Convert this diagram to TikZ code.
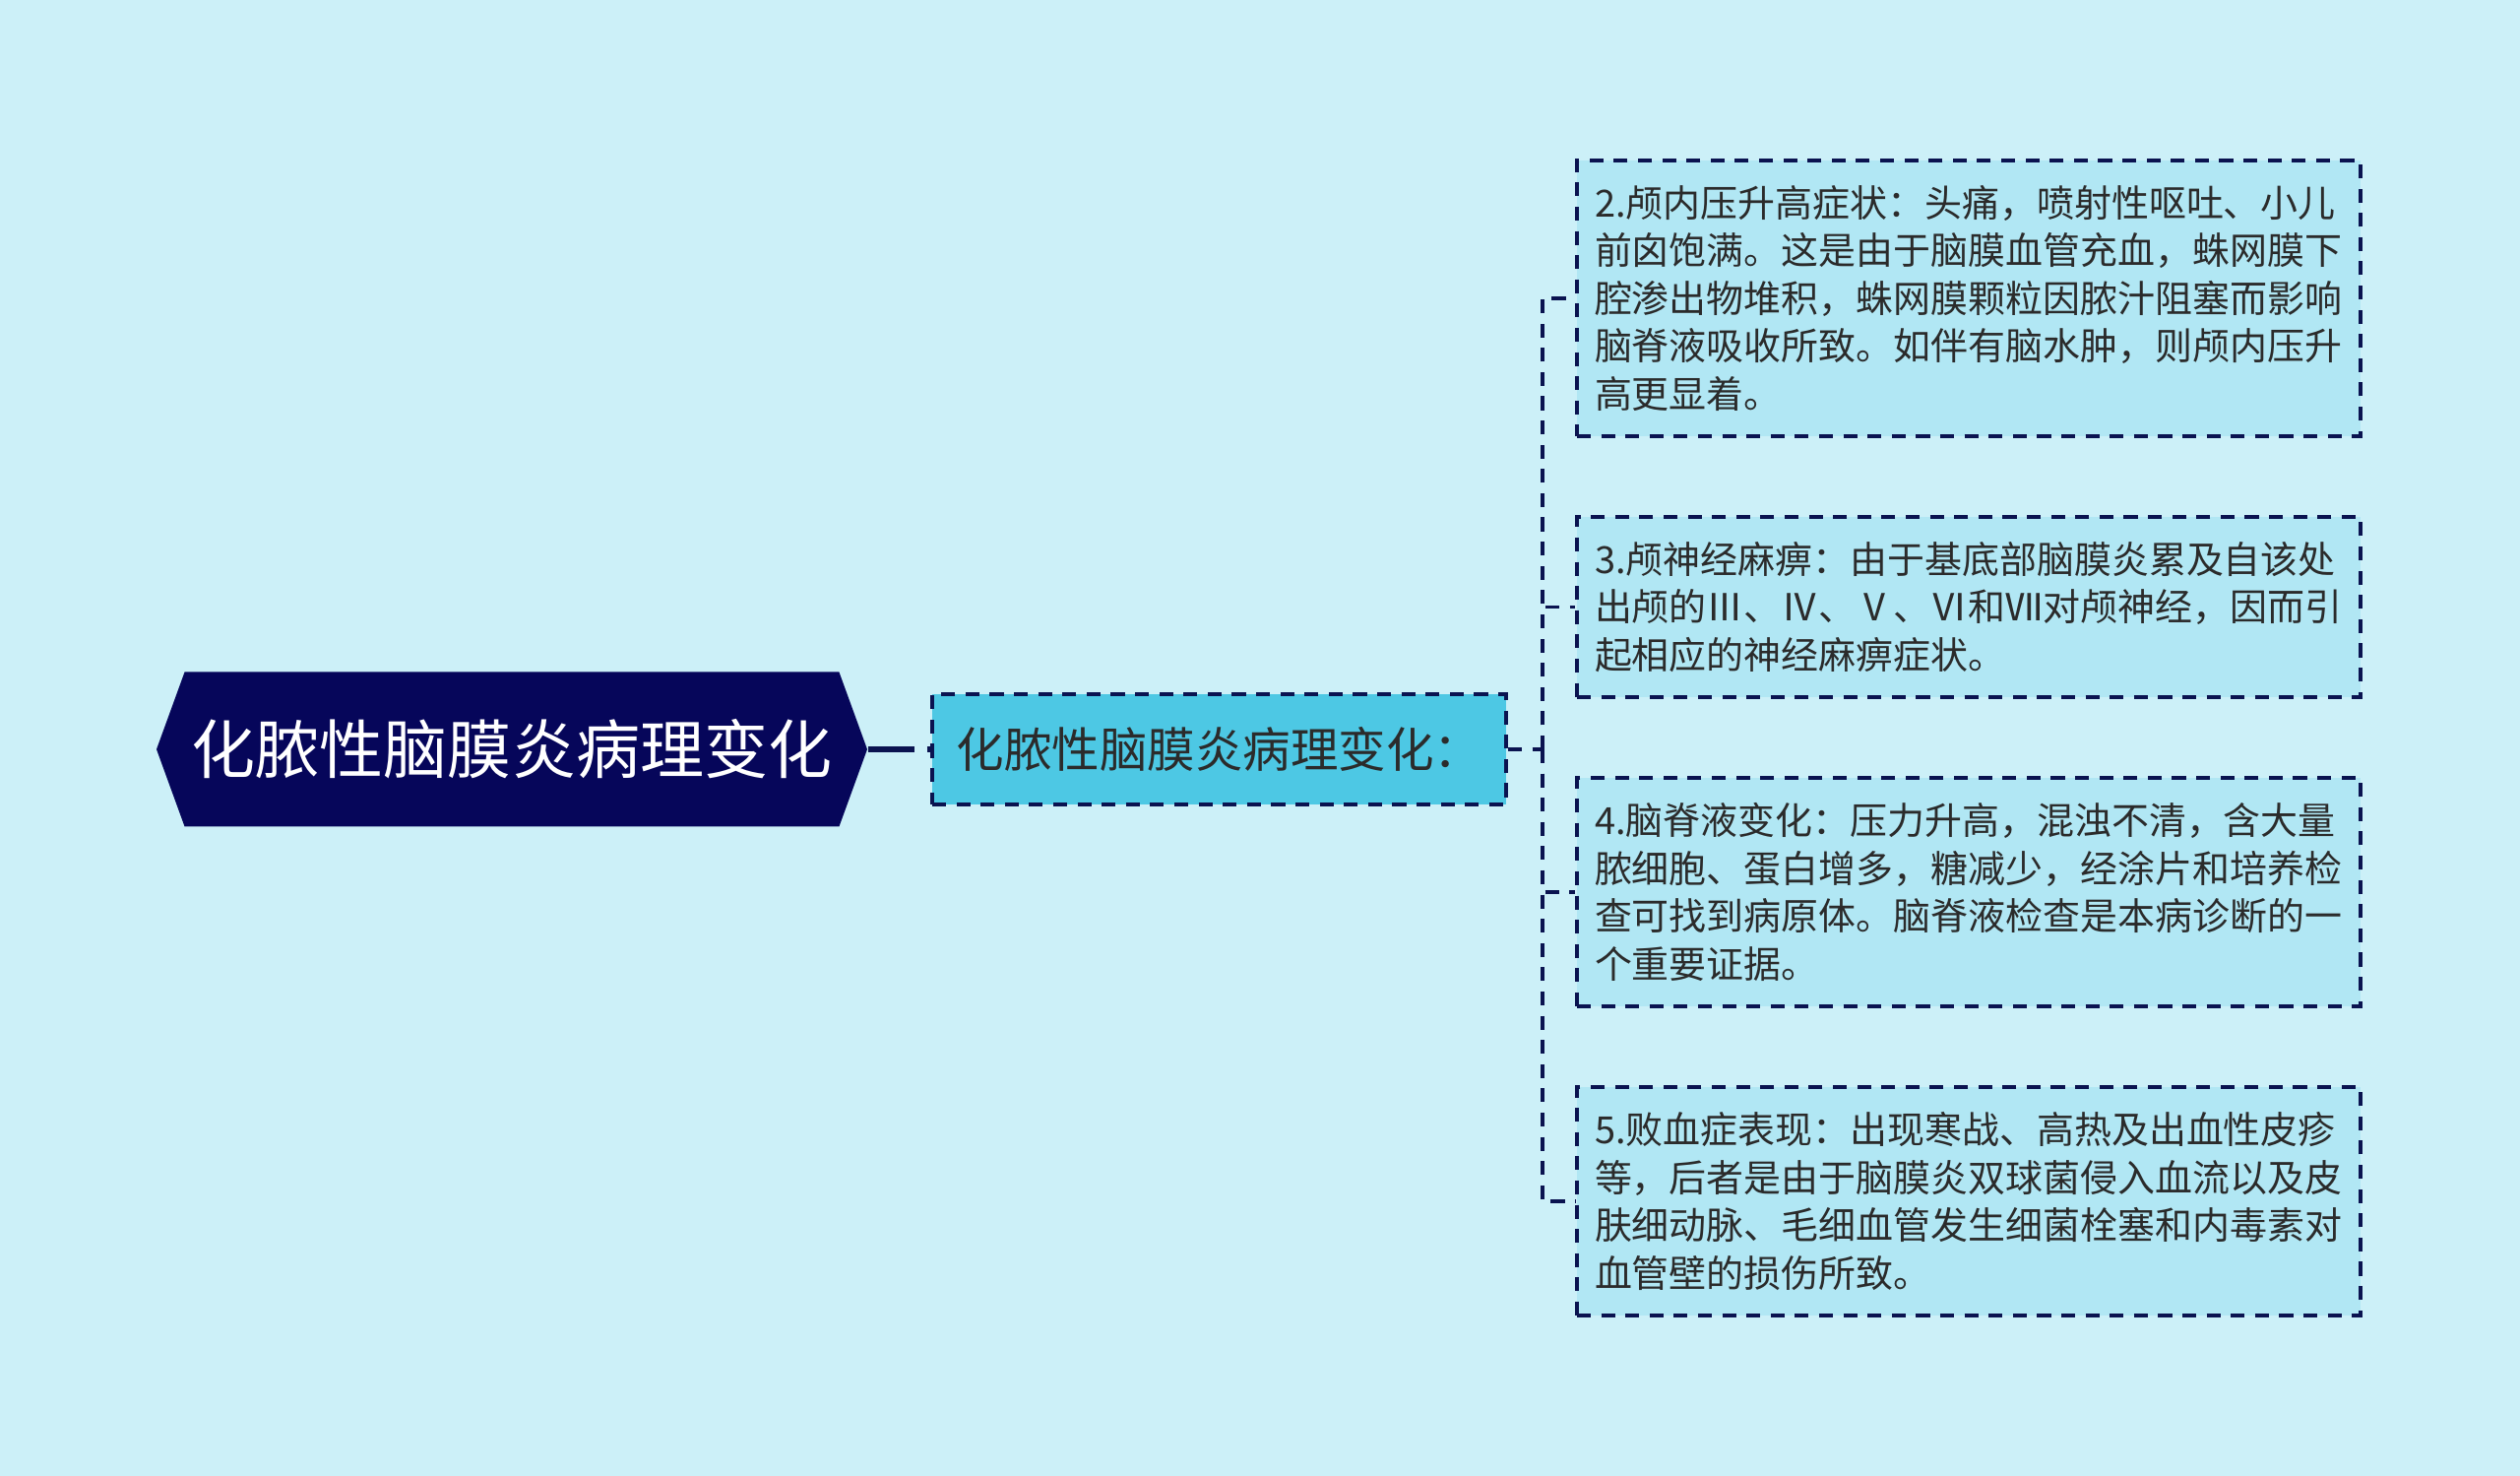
\documentclass[tikz,border=0pt]{standalone}
\usepackage{fontspec}
\setmainfont{Noto Sans CJK SC}
\usetikzlibrary{shapes.symbols}
\definecolor{bgcyan}{HTML}{CCF0F8}
\definecolor{leafcyan}{HTML}{B1E7F4}
\definecolor{childcyan}{HTML}{4DC8E4}
\definecolor{rootnavy}{HTML}{06065A}
\definecolor{linenavy}{HTML}{0A1350}
\definecolor{textgray}{HTML}{2B2B2B}
\begin{document}
\begin{tikzpicture}[
  leaf/.style={draw=linenavy,line width=1.1pt,dash pattern=on 4pt off 3pt,fill=leafcyan,
    text=textgray,text width=7.6cm,inner xsep=0.18cm,align=left,
    font=\fontsize{10.8pt}{13.8pt}\selectfont},
  link/.style={draw=linenavy,line width=1.1pt,dash pattern=on 4pt off 3pt}]
  \useasboundingbox [fill=bgcyan] (0,0) rectangle (25.6,14.99);
  \node [shape=signal,signal to=west and east,signal pointer angle=140,fill=rootnavy,text=white,
    minimum width=7.22cm,minimum height=1.57cm,inner sep=0pt,font=\fontsize{18.5pt}{22pt}\selectfont]
    (root) at (5.2,7.38) {化脓性脑膜炎病理变化};
  \node [draw=linenavy,line width=1.1pt,dash pattern=on 4pt off 3pt,fill=childcyan,text=textgray,
    minimum width=5.83cm,minimum height=1.12cm,inner sep=0pt,font=\fontsize{13.8pt}{16pt}\selectfont]
    (child) at (12.385,7.38) {化脓性脑膜炎病理变化：};
  \coordinate (trunk) at (15.67,7.38);
  \node [leaf,minimum height=2.80cm] (cranial) at (20.0,11.96)
    {2.颅内压升高症状：头痛，喷射性呕吐、小儿\\前囟饱满。这是由于脑膜血管充血，蛛网膜下\\腔渗出物堆积，蛛网膜颗粒因脓汁阻塞而影响\\脑脊液吸收所致。如伴有脑水肿，则颅内压升\\高更显着。};
  \node [leaf,minimum height=1.83cm] (nerve) at (20.0,8.825)
    {3.颅神经麻痹：由于基底部脑膜炎累及自该处\\出颅的Ⅲ、Ⅳ、Ⅴ、Ⅵ和Ⅶ对颅神经，因而引\\起相应的神经麻痹症状。};
  \node [leaf,minimum height=2.32cm] (csf) at (20.0,5.93)
    {4.脑脊液变化：压力升高，混浊不清，含大量\\脓细胞、蛋白增多，糖减少，经涂片和培养检\\查可找到病原体。脑脊液检查是本病诊断的一\\个重要证据。};
  \node [leaf,minimum height=2.32cm] (sepsis) at (20.0,2.79)
    {5.败血症表现：出现寒战、高热及出血性皮疹\\等，后者是由于脑膜炎双球菌侵入血流以及皮\\肤细动脉、毛细血管发生细菌栓塞和内毒素对\\血管壁的损伤所致。};
  \draw [linenavy,line width=1.7pt,dash pattern=on 0.47cm off 0.13cm] (root.east) -- (child.west);
  \draw [link] (child.east) -- (trunk);
  \draw [link] (trunk) |- (cranial.west);
  \draw [link] (trunk) |- (nerve.west);
  \draw [link] (trunk) |- (csf.west);
  \draw [link] (trunk) |- (sepsis.west);
\end{tikzpicture}
\end{document}
